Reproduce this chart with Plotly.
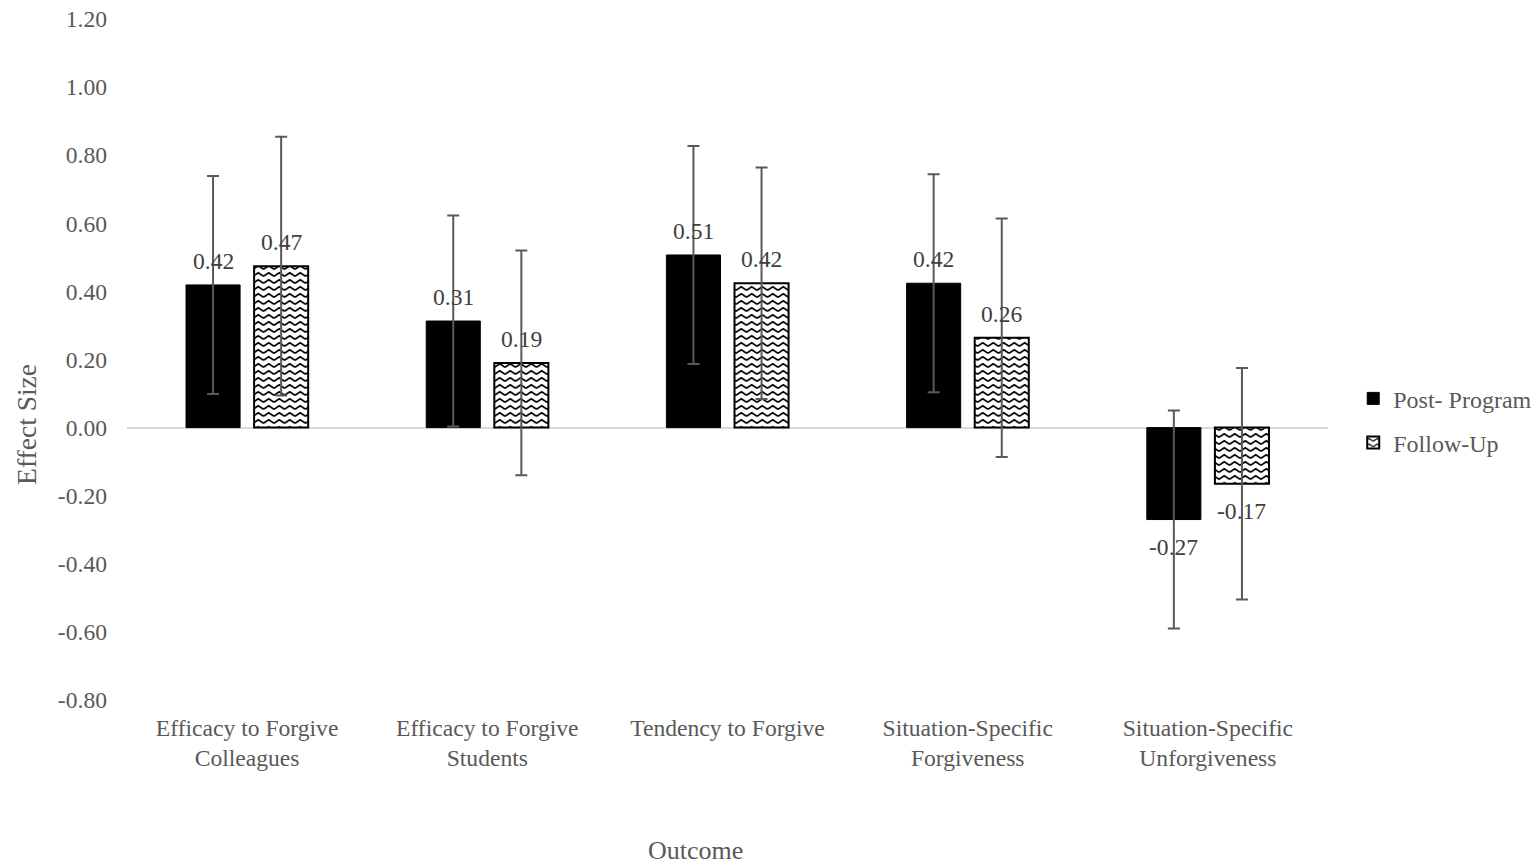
import plotly.graph_objects as go

categories = ["Efficacy to Forgive<br>Colleagues", "Efficacy to Forgive<br>Students",
              "Tendency to Forgive", "Situation-Specific<br>Forgiveness",
              "Situation-Specific<br>Unforgiveness"]
post_values = [0.419, 0.313, 0.507, 0.424, -0.270]
post_errors = [0.32, 0.31, 0.32, 0.32, 0.32]
follow_values = [0.474, 0.190, 0.424, 0.264, -0.165]
follow_errors = [0.38, 0.33, 0.34, 0.35, 0.34]
series_names = ["Post- Program", "Follow-Up"]
y_ticks = [-0.8, -0.6, -0.4, -0.2, 0.0, 0.2, 0.4, 0.6, 0.8, 1.0, 1.2]

FONT = "Liberation Serif, Times New Roman, serif"
GREY = "#595959"
BARGAP = 0.433
BARGROUPGAP = 0.206

fig = go.Figure()
fig.add_trace(go.Bar(
    x=categories, y=post_values, name=series_names[0],
    marker=dict(color="black", line=dict(color="black", width=1)),
    error_y=dict(type="data", array=post_errors, color=GREY, thickness=2, width=6),
    legendgroup="a",
))
fig.add_trace(go.Bar(
    x=categories, y=follow_values, name=series_names[1],
    marker=dict(color="white", line=dict(color="black", width=2),
                pattern=dict(shape="-", fgcolor="black", bgcolor="white", size=8, solidity=0.2)),
    error_y=dict(type="data", array=follow_errors, color=GREY, thickness=2, width=6),
    legendgroup="b",
))

off = (1 - BARGAP) / 4
annotations = []
for vals, sign in ((post_values, -1), (follow_values, 1)):
    for i, v in enumerate(vals):
        annotations.append(dict(
            x=i + sign * off, y=v, xref="x", yref="y", text=f"{v:.2f}",
            showarrow=False, yanchor="middle",
            yshift=24 if v >= 0 else -27,
            font=dict(family=FONT, size=23.6, color="#404040"),
        ))

annotations.append(dict(text="Effect Size", xref="paper", yref="paper", x=0, xshift=-100,
                        y=0.404, textangle=-90, showarrow=False, xanchor="center", yanchor="middle",
                        font=dict(family=FONT, size=27.5, color=GREY)))
annotations.append(dict(text="Outcome", xref="paper", yref="paper", x=0.473, y=-0.2205,
                        showarrow=False, xanchor="center", yanchor="middle",
                        font=dict(family=FONT, size=26, color=GREY)))

fig.update_layout(
    width=1536, height=865,
    margin=dict(l=127, r=208, t=19, b=165, autoexpand=False),
    paper_bgcolor="white", plot_bgcolor="white",
    barmode="group", bargap=BARGAP, bargroupgap=BARGROUPGAP,
    font=dict(family=FONT, size=23.6, color=GREY),
    showlegend=True,
    legend=dict(x=1.021, y=0.41, xanchor="left", yanchor="middle",
                font=dict(family=FONT, size=24, color=GREY),
                traceorder="grouped", tracegroupgap=10, bgcolor="rgba(0,0,0,0)"),
    annotations=annotations,
    xaxis=dict(showline=False, showgrid=False, ticks="", tickfont=dict(size=23.6, color=GREY),
               ticklabelstandoff=11, automargin=False),
    yaxis=dict(range=[-0.8, 1.2], tickvals=y_ticks, ticktext=[f"{t:.2f}" for t in y_ticks],
               showgrid=False, showline=False, zeroline=True, zerolinecolor="#d9d9d9",
               zerolinewidth=2, ticks="", tickfont=dict(size=23.6, color=GREY),
               ticklabelstandoff=19, automargin=False),
)

post_script = """
document.body.style.margin = '0';
document.documentElement.style.margin = '0';
document.documentElement.style.overflow = 'hidden';
document.body.style.overflow = 'hidden';
var gd = document.getElementById('{plot_id}');
function zig(){
  gd.querySelectorAll('pattern').forEach(function(p){
    var w = 10.5, h = 7;
    p.setAttribute('width', w); p.setAttribute('height', h);
    p.querySelectorAll('rect').forEach(function(r){ r.setAttribute('width', w); r.setAttribute('height', h); });
    var path = p.querySelector('path');
    if(!path) return;
    path.setAttribute('d', 'M0,' + (h*0.75) + 'L' + (w/2) + ',' + (h*0.25) + 'L' + w + ',' + (h*0.75));
    path.setAttribute('fill', 'none');
    path.setAttribute('stroke', 'black');
    path.setAttribute('stroke-width', '1.6px');
    path.setAttribute('stroke-linejoin', 'miter');
    path.setAttribute('opacity', '1');
  });
}
zig();
gd.on('plotly_afterplot', zig);
"""

fig.write_html("out.html", post_script=post_script, config={"displayModeBar": False})
